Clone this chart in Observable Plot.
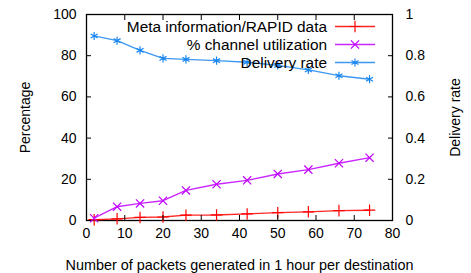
<!DOCTYPE html>
<html><head><meta charset="utf-8">
<script src="https://cdn.jsdelivr.net/npm/d3@7"></script>
<script src="https://cdn.jsdelivr.net/npm/@observablehq/plot@0.6"></script>
<style>
html,body{margin:0;padding:0;background:#fff;}
svg{font-family:"Liberation Sans",Arial,sans-serif;}
</style>
</head><body>
<div id="chart"></div>
<script>
const packets = [2, 8, 14, 20, 26, 34, 42, 50, 58, 66, 74];
const metaRatio = [0.4, 0.8, 1.5, 1.7, 2.6, 2.7, 3.2, 3.8, 4.2, 4.8, 5.0];
const channelUtil = [1.1, 6.7, 8.3, 9.6, 14.6, 17.6, 19.5, 22.6, 24.7, 27.8, 30.5];
const deliveryRate = [0.896, 0.873, 0.826, 0.787, 0.782, 0.776, 0.768, 0.753, 0.731, 0.703, 0.686];
const seriesNames = ["Meta information/RAPID data", "% channel utilization", "Delivery rate"];
const seriesColors = ["#ff0000", "#c000ff", "#1a86f0"];
const seriesSymbols = ["plus", "times", "asterisk"];
const xTicks = [0, 10, 20, 30, 40, 50, 60, 70, 80];
const yTicks = [0, 20, 40, 60, 80, 100];
const y2Ticks = [0, 0.2, 0.4, 0.6, 0.8, 1];

const rows = [];
packets.forEach((p, i) => {
  rows.push({x: p, y: metaRatio[i], s: 0});
  rows.push({x: p, y: channelUtil[i], s: 1});
  rows.push({x: p, y: deliveryRate[i] * 100, s: 2});
});

const marks = [Plot.frame({stroke: "#000", strokeWidth: 1.3})];
for (let s = 0; s < 3; s++) {
  const d = rows.filter(r => r.s === s);
  marks.push(Plot.line(d, {x: "x", y: "y", stroke: seriesColors[s], strokeWidth: 1.4, strokeOpacity: 0.85}));
  marks.push(Plot.dot(d, {x: "x", y: "y", stroke: seriesColors[s], symbol: seriesSymbols[s], r: 3.8, strokeWidth: 1.2}));
}
marks.push(
  Plot.axisX({anchor: "bottom", ticks: xTicks, tickSize: -5, tickPadding: 13, fontSize: 14, label: null}),
  Plot.axisX({anchor: "bottom", ticks: [], label: "Number of packets generated in 1 hour per destination", labelAnchor: "center", labelOffset: 49, labelArrow: "none", fontSize: 14.4}),
  Plot.axisX({anchor: "top", ticks: xTicks.slice(1, -1), tickSize: -5, tickFormat: () => "", label: null}),
  Plot.axisY({anchor: "left", ticks: yTicks, tickSize: -5, tickPadding: 15, fontSize: 14, label: "Percentage", labelAnchor: "center", labelOffset: 66, labelArrow: "none"}),
  Plot.axisY({anchor: "right", ticks: y2Ticks.map(v => v * 100), tickSize: -5, tickPadding: 18, fontSize: 14, tickFormat: v => String(+(v / 100).toFixed(1)), label: "Delivery rate", labelAnchor: "center", labelOffset: 67, labelArrow: "none"})
);

const chart = Plot.plot({
  width: 471,
  height: 273,
  marginLeft: 86,
  marginRight: 79,
  marginTop: 14,
  marginBottom: 53,
  x: {domain: [0, 80]},
  y: {domain: [0, 100]},
  style: {fontSize: "14px", fontFamily: "'Liberation Sans', Arial, sans-serif", color: "#000", background: "#fff"},
  marks
});

// legend (top-right, inside the frame)
const svg = d3.select(chart);
const lg = svg.append("g").attr("font-size", 15.4).attr("fill", "#000");
const sym = {plus: d3.symbolPlus, times: d3.symbolTimes, asterisk: d3.symbolAsterisk};
seriesNames.forEach((name, i) => {
  const yy = 26.5 + i * 18;
  lg.append("text").attr("x", 327).attr("y", yy).attr("dy", "0.35em").attr("text-anchor", "end").text(name);
  lg.append("line").attr("x1", 335).attr("x2", 375).attr("y1", yy).attr("y2", yy)
    .attr("stroke", seriesColors[i]).attr("stroke-width", 1.4).attr("stroke-opacity", 0.85);
  lg.append("path").attr("transform", `translate(355,${yy})`)
    .attr("d", d3.symbol(sym[seriesSymbols[i]], 45)())
    .attr("fill", "none").attr("stroke", seriesColors[i]).attr("stroke-width", 1.2);
});

document.getElementById("chart").appendChild(chart);
</script>
</body></html>
